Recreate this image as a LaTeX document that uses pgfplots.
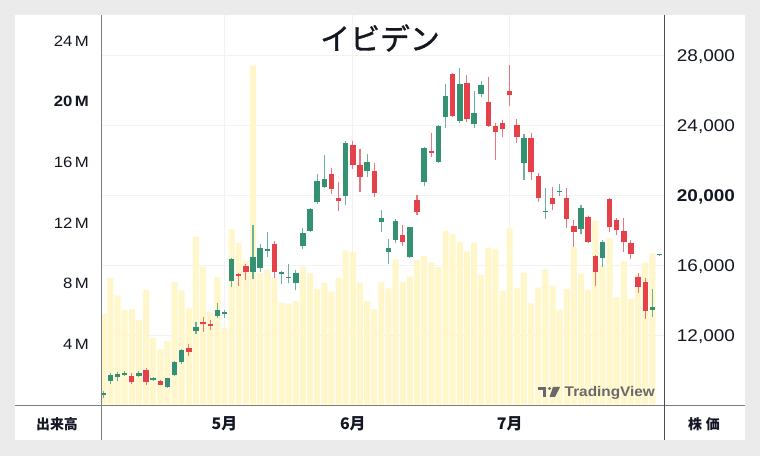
\documentclass[border=0pt]{standalone}
\usepackage{pgfplots}
\pgfplotsset{compat=1.18}
\usepackage{pgfplotstable}
\usepackage{fontspec}
\setmainfont{Liberation Sans}
\newfontfamily\lfont{Liberation Sans}[FakeStretch=1.12]
\newfontfamily\cjk{Noto Sans CJK JP}
\newfontfamily\cjktitle{Noto Sans CJK JP}[FakeBold=1.2]

\definecolor{upc}{RGB}{52,146,115}
\definecolor{dnc}{RGB}{228,65,74}
\definecolor{volc}{RGB}{255,246,201}
\definecolor{gridc}{RGB}{242,242,242}
\definecolor{txt}{RGB}{19,23,34}
\definecolor{bg}{RGB}{235,235,235}
\definecolor{framec}{RGB}{125,125,125}
\definecolor{wm}{RGB}{105,105,105}

% volume (millions) per bar index
\pgfplotstableread{
i V
0 6.0
1 8.37
2 7.2
3 6.25
4 6.3
5 5.59
6 7.57
7 4.4
8 3.66
9 4.2
10 8.08
11 7.55
12 6.38
13 11.09
14 9.11
15 6.1
16 8.42
17 5.05
18 11.59
19 10.66
20 9.5
21 22.37
22 8.67
23 8.93
24 8.34
25 6.73
26 6.67
27 6.84
28 9.11
29 8.67
30 7.64
31 8.05
32 7.46
33 8.38
34 10.17
35 10.06
36 8.05
37 6.84
38 6.29
39 8.12
40 7.68
41 9.59
42 8.12
43 8.45
44 9.55
45 9.81
46 9.37
47 9.07
48 11.46
49 11.24
50 10.72
51 10.1
52 10.69
53 8.56
54 10.36
55 10.28
56 7.5
57 11.64
58 7.7
59 8.71
60 6.69
61 7.72
62 8.93
63 7.86
64 6.25
65 7.64
66 10.39
67 8.63
68 7.57
69 12.12
70 9.15
71 10.98
72 7.09
73 9.48
74 6.98
75 8.56
76 9.37
77 9.99
}\vol

% rising candles: i O H L C
\pgfplotstableread{
i O H L C
0 8600 8850 8480 8740
1 9426 9903 9236 9769
2 9655 9960 9445 9807
3 9769 9998 9731 9864
5 9693 9998 9636 9903
7 9483 9655 9426 9579
9 9103 9617 9045 9579
10 9769 10569 9712 10531
11 10493 11236 10379 11198
13 12302 12817 12093 12531
16 13160 13865 13046 13465
17 13236 13484 13046 13351
18 15141 16437 14817 16379
21 15674 18342 15255 16532
22 15865 17237 15674 17046
23 16856 17961 16532 16970
25 15522 15712 14950 15636
26 15332 16113 15007 15389
27 15008 15770 14627 15617
28 17161 18189 16970 17865
29 18000 19294 17922 19237
30 19637 21256 19523 20875
31 20494 22342 20437 20951
34 19980 23142 19485 23009
37 21428 22418 21104 21923
39 18494 19180 17961 18742
40 16779 17541 16113 17046
41 17485 18666 17294 18589
43 16494 18247 16456 18209
45 20780 22780 20571 22723
47 21923 24037 21866 24000
48 24494 26380 23866 25714
50 24304 27295 24190 26399
52 24113 26000 23866 24761
53 25809 26590 25637 26342
59 21904 23542 20913 23332
62 19080 20475 18665 19120
64 20209 20666 20000 20285
67 18095 19485 17828 19295
70 16475 17485 15923 17390
77 13485 14666 13104 13637
78 16620 16650 16620 16650
}\up

% falling candles: i O H L C
\pgfplotstableread{
i O H L C
4 9712 9903 9255 9350
6 10074 10150 9198 9350
8 9445 9483 9198 9217
12 11293 11522 10874 11102
14 12817 13103 12245 12665
15 12703 12912 12341 12550
19 15541 15579 14855 15446
20 15979 16093 15198 15636
24 17256 17427 15293 15636
32 21256 21618 20132 20399
33 19904 20818 19142 19713
35 22914 23142 21542 21771
36 21771 22666 20247 21104
38 21428 21866 19961 20151
42 17771 18342 17142 17390
44 19771 20056 18914 19104
46 22589 23618 22247 22437
49 26971 27009 24533 24571
51 26476 26914 24247 24380
54 25352 26780 23961 24000
55 24000 24152 22056 23675
56 24190 24342 23351 23828
57 26000 27485 25142 25771
58 24037 24380 23047 23389
60 23332 23618 20913 21351
61 21161 21294 19675 19866
63 19866 20495 19200 19523
65 19866 20438 18152 18666
66 18285 18628 17066 17961
68 18780 18857 17295 17390
69 16571 16628 14856 15675
71 19809 19866 17961 18247
72 18628 18723 17771 18057
73 18000 18723 16818 17390
74 17295 17485 16418 16666
75 15390 15580 14475 14818
76 15104 15295 12970 13446
}\dn

\begin{document}
\begin{tikzpicture}[x=1bp,y=1bp]
\useasboundingbox (0,0) rectangle (760,456);
\fill[bg] (0,0) rectangle (760,456);
\fill[white] (15,16) rectangle (745,441);

% price grid + right labels
\begin{axis}[at={(101.7bp,50bp)}, anchor=south west, scale only axis,
  width=562.6bp, height=391bp,
  xmin=-0.22, xmax=78.68, ymin=8000, ymax=30343,
  axis y line*=right, axis x line*=bottom,
  axis line style={draw=none}, tick style={draw=none},
  scaled y ticks=false,
  xtick=\empty, ytick={12000,16000,20000,24000,28000},
  yticklabels={{12,000},{16,000},{\bfseries 20,000},{24,000},{28,000}},
  yticklabel style={font=\lfont\fontsize{17}{17}\selectfont, text=txt,
    anchor=west, inner xsep=0pt, inner ysep=0pt, text depth=0pt, xshift=12.4bp},
  ymajorgrids, grid style={gridc, line width=1bp}]
\addplot[draw=none, forget plot] coordinates {(0,10000)};
\end{axis}

% volume
\begin{axis}[at={(101.7bp,50bp)}, anchor=south west, scale only axis,
  width=562.6bp, height=391bp,
  xmin=-0.22, xmax=78.68, ymin=-0.09, ymax=25.72,
  axis y line*=left, axis x line*=bottom,
  axis line style={draw=none}, tick style={draw=none},
  ytick={4,8,12,16,20,24},
  yticklabels={4\,M,8\,M,12\,M,16\,M,{\bfseries 20\,M},24\,M},
  yticklabel style={font=\lfont\fontsize{15}{15}\selectfont, text=txt,
    anchor=east, inner xsep=0pt, inner ysep=0pt, text depth=0pt, xshift=-12.7bp},
  xtick={17,35,57}, xticklabels={5月,6月,7月},
  xticklabel style={font=\cjk\bfseries\fontsize{16}{16}\selectfont, text=txt,
    anchor=center, yshift=-18bp},
  xmajorgrids, grid style={gridc, line width=1bp}]
\addplot[ybar, bar width=0.84, fill=volc, draw=none] table[x=i, y=V] {\vol};
\end{axis}

% candles
\begin{axis}[at={(101.7bp,50bp)}, anchor=south west, scale only axis,
  width=562.6bp, height=391bp,
  xmin=-0.22, xmax=78.68, ymin=8000, ymax=30343, hide axis]
% wicks
\addplot[mark=none, draw=upc!72!white, line width=1.1bp,
  quiver={u=0, v=\thisrow{H}-\thisrow{L}}]
  table[x=i, y=L] {\up};
\addplot[mark=none, draw=dnc!72!white, line width=1.1bp,
  quiver={u=0, v=\thisrow{H}-\thisrow{L}}]
  table[x=i, y=L] {\dn};
% bodies
\addplot[mark=none, draw=upc, line width=5.4bp,
  quiver={u=0, v={max(\thisrow{C}-\thisrow{O},60)}}]
  table[x=i, y=O] {\up};
\addplot[mark=none, draw=dnc, line width=5.4bp,
  quiver={u=0, v={max(\thisrow{O}-\thisrow{C},60)}}]
  table[x=i, y=C] {\dn};
\end{axis}

% frame lines
\draw[framec, line width=1bp] (15,50) -- (745,50);
\draw[framec, line width=1bp] (101.7,16) -- (101.7,441);
\draw[black!70, line width=1bp] (664.3,16) -- (664.3,441);

% title and strip labels
\node[font=\cjktitle\fontsize{30}{30}\selectfont, text=txt] at (380,418) {イビデン};
\node[font=\cjk\bfseries\fontsize{14}{14}\selectfont, text=txt] at (57,32) {出来高};
\node[font=\cjk\bfseries\fontsize{14}{14}\selectfont, text=txt] at (704,32) {株\kern4bp 価};

% watermark
\fill[wm] (538,69) rectangle (546,66);
\fill[wm] (542.5,66) rectangle (546,59);
\fill[wm] (549.5,67.5) circle (1.6);
\fill[wm] (553,69) -- (560,69) -- (555,59) -- (549.5,59) -- cycle;
\node[font=\bfseries\fontsize{14}{14}\selectfont, text=wm, xscale=1.1, anchor=west, inner sep=0pt] at (564.5,63.5) {TradingView};
\end{tikzpicture}
\end{document}
